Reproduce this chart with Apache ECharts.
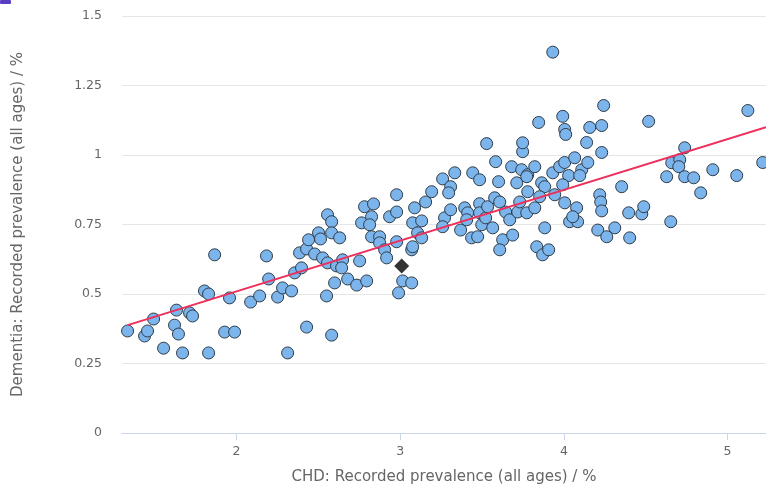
<!DOCTYPE html>
<html>
<head>
<meta charset="utf-8">
<script src="https://cdn.jsdelivr.net/npm/echarts@6/dist/echarts.min.js"></script>
<style>html,body{margin:0;padding:0;background:#fff}#chart{width:766px;height:490px}</style>
</head>
<body>
<div id="chart"></div>
<script>
// CHD recorded prevalence (%) per practice
const chdValues = [
1.334,1.438,1.456,1.493,1.554,1.621,1.633,1.645,1.670,1.713,1.731,1.804,1.829,1.829,1.866,1.927,1.988,1.957,2.086,2.141,
2.183,2.196,2.251,2.281,2.336,2.355,2.397,2.385,2.428,2.440,2.477,2.501,2.513,2.526,2.556,2.581,2.581,2.630,2.556,2.611,
2.648,2.642,2.599,2.550,2.679,2.734,2.795,2.752,2.764,2.782,2.837,2.825,2.813,2.825,2.874,2.874,2.905,2.917,2.978,2.935,
2.978,2.978,3.015,2.990,3.070,3.070,2.428,2.581,2.312,
3.088,3.155,3.192,3.259,3.308,3.296,3.333,3.076,3.131,3.106,3.131,3.076,3.271,3.259,3.308,3.369,3.394,3.412,3.406,3.436,
3.473,3.443,3.485,3.485,3.485,3.498,3.522,3.534,3.565,3.577,3.583,3.601,3.608,3.626,3.608,3.644,3.669,3.687,3.681,3.712,
3.718,3.730,3.742,3.748,3.748,3.528,3.779,3.779,3.773,3.846,3.932,3.993,4.005,4.011,4.158,4.231,4.243,4.139,4.231,3.822,
3.773,3.864,3.883,3.932,3.974,4.005,4.066,4.109,4.146,4.029,4.097,3.993,3.944,3.852,4.005,4.078,3.822,4.035,4.084,4.054,
3.883,3.834,3.870,3.907,4.219,4.225,4.231,4.207,4.262,4.311,4.353,4.396,4.402,4.476,4.488,4.518,5.124,4.738,4.659,4.708,
4.702,4.628,4.738,4.793,4.910,5.056,5.215,4.836,4.653
];
// Dementia recorded prevalence (%) per practice
const dementiaValues = [
0.367,0.349,0.367,0.410,0.305,0.388,0.442,0.356,0.288,0.432,0.421,0.511,0.500,0.288,0.641,0.363,0.363,0.486,0.471,0.493,
0.637,0.554,0.489,0.522,0.511,0.576,0.594,0.648,0.662,0.695,0.644,0.720,0.698,0.630,0.785,0.760,0.720,0.702,0.612,0.601,
0.623,0.594,0.540,0.493,0.554,0.532,0.547,0.619,0.756,0.814,0.824,0.778,0.749,0.706,0.706,0.684,0.659,0.630,0.688,0.778,
0.795,0.857,0.547,0.504,0.540,0.659,0.381,0.352,0.288,
0.810,0.831,0.868,0.914,0.886,0.864,0.936,0.756,0.763,0.720,0.702,0.670,0.774,0.742,0.803,0.730,0.810,0.792,0.767,0.702,
0.706,0.936,0.911,0.825,0.792,0.749,0.774,0.814,0.738,0.846,0.976,0.904,0.831,0.695,0.659,0.795,0.767,0.712,0.958,0.900,
0.795,0.831,0.947,1.012,1.044,1.041,0.868,0.929,0.792,1.117,1.370,1.139,1.092,1.074,1.099,1.106,1.178,1.045,1.009,0.958,
0.922,0.900,0.886,0.936,0.958,0.973,0.990,0.947,0.973,0.926,0.926,0.893,0.857,0.850,0.828,0.810,0.810,0.760,0.760,0.778,
0.738,0.670,0.641,0.659,0.857,0.831,0.799,0.730,0.706,0.738,0.886,0.792,0.702,0.788,0.814,1.121,1.160,1.026,0.972,0.983,
0.958,0.922,0.922,0.918,0.947,0.926,0.973,0.864,0.760
];
// Highlighted practice
const highlightChd = [3.009];
const highlightDementia = [0.601];
// Trend line end points
const trendChd = [1.335, 5.235];
const trendDementia = [0.388, 1.100];
// Axis ticks
const xTicks = [2, 3, 4, 5];
const yTicks = [0, 0.25, 0.5, 0.75, 1, 1.25, 1.5];

const xTitle = 'CHD: Recorded prevalence (all ages) / %';
const yTitle = 'Dementia: Recorded prevalence (all ages) / %';

const pts = chdValues.map((x, i) => [x, dementiaValues[i]]);
const hi = highlightChd.map((x, i) => [x, highlightDementia[i]]);
const trend = trendChd.map((x, i) => [x, trendDementia[i]]);

const font = '"DejaVu Sans", Verdana, sans-serif';
const chart = echarts.init(document.getElementById('chart'), null, {renderer: 'canvas'});
chart.setOption({
  animation: false,
  backgroundColor: '#fff',
  grid: {left: 122, right: 0, top: 16, bottom: 57, containLabel: false},
  graphic: [{type: 'rect', shape: {x: 0, y: 0, width: 11, height: 4, r: 1}, style: {fill: '#5b3cc4'}}],
  xAxis: {
    type: 'value', min: 1.3, max: 5.235,
    name: xTitle, nameLocation: 'middle', nameGap: 37,
    nameTextStyle: {color: '#666', fontSize: 15, fontFamily: font},
    axisLine: {show: true, lineStyle: {color: '#ccd6eb', width: 1}},
    axisTick: {show: true, length: 7, lineStyle: {color: '#ccd6eb'}, customValues: xTicks},
    axisLabel: {color: '#666', fontSize: 12.5, fontFamily: font, margin: 12, customValues: xTicks},
    splitLine: {show: false}
  },
  yAxis: {
    type: 'value', min: yTicks[0], max: yTicks[yTicks.length - 1], interval: 0.25,
    name: yTitle, nameLocation: 'middle', nameGap: 96,
    nameTextStyle: {color: '#666', fontSize: 15, fontFamily: font},
    axisLine: {show: false}, axisTick: {show: false},
    axisLabel: {color: '#666', fontSize: 12.5, fontFamily: font, margin: 20},
    splitLine: {lineStyle: {color: '#e6e6e6', width: 1}}
  },
  series: [
    {
      type: 'scatter', data: pts, symbol: 'circle', symbolSize: 12, z: 2,
      itemStyle: {color: '#7cb5ec', borderColor: '#2e3b48', borderWidth: 1, opacity: 1}
    },
    {
      type: 'line', data: trend, symbol: 'none', z: 3,
      lineStyle: {color: '#ee2f5b', width: 2}
    },
    {
      type: 'scatter', data: hi, symbol: 'diamond', symbolSize: 15, z: 4,
      itemStyle: {color: '#000', borderColor: '#000', borderWidth: 0}
    }
  ]
});
</script>
</body>
</html>
